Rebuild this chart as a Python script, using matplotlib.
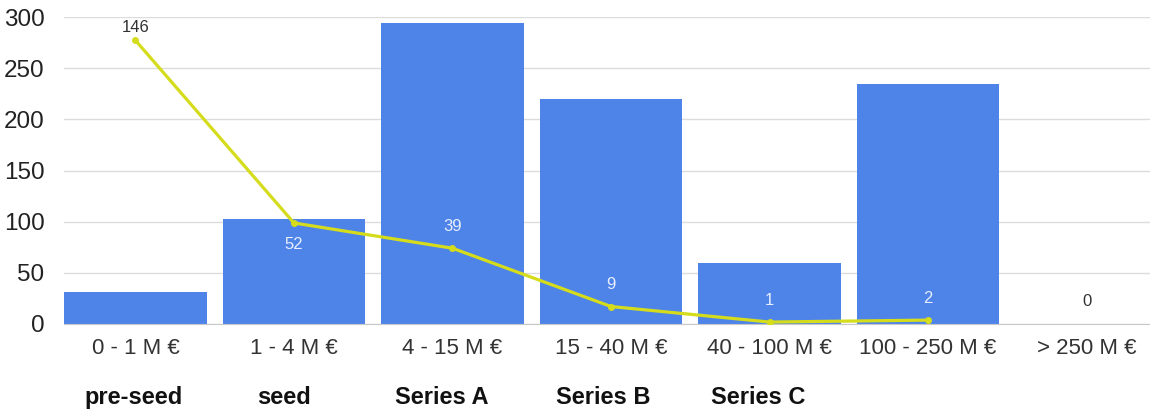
import matplotlib.pyplot as plt

plt.rcParams['font.family'] = ['Liberation Sans', 'DejaVu Sans']

# data
ranges = ["0 - 1 M €", "1 - 4 M €", "4 - 15 M €", "15 - 40 M €", "40 - 100 M €", "100 - 250 M €", "> 250 M €"]
stages = ["pre-seed", "seed", "Series A", "Series B", "Series C"]
bar_values = [31, 103, 294, 220, 60, 235, 0]
line_values = [146, 52, 39, 9, 1, 2, 0]
line_points = 6  # the line stops at 100 - 250 M €

fig = plt.figure(figsize=(11.5, 4.12), dpi=100)
ax = fig.add_axes([0.0557, 0.2136, 0.9443, 0.7451])

x = list(range(len(ranges)))
ax.bar(x, bar_values, width=0.9, color='#4e84e8', zorder=2)
ax.set_ylim(0, 300)
ax.set_xlim(-0.45, 6.40)
ax.set_yticks([0, 50, 100, 150, 200, 250, 300])
ax.grid(axis='y', color='#dcdcdc', linewidth=1, zorder=0)
ax.set_axisbelow(True)
for s in ['top', 'right', 'left']:
    ax.spines[s].set_visible(False)
ax.spines['bottom'].set_color('#c8c8c8')
ax.tick_params(axis='y', length=0, labelsize=17.5, labelcolor='#222222', pad=14)
ax.tick_params(axis='x', length=0, labelsize=16, labelcolor='#333333', pad=10)
ax.set_xticks(x)
ax.set_xticklabels(ranges)

# second scale for the line
ax2 = ax.twinx()
ax2.set_ylim(0, 158)
ax2.axis('off')
ax2.plot(x[:line_points], line_values[:line_points], color='#d4dc1c', linewidth=2.3,
         marker='o', markersize=4, zorder=3)

for i, v in enumerate(line_values):
    if i == 1:
        dy = -22
    elif i == 0:
        dy = 13
    else:
        dy = 22
    # label sits inside the bar -> light text, else dark
    label_y = ax.transData.inverted().transform(
        ax2.transData.transform((i, v)) + (0, dy))[1]
    col = '#e8eeff' if label_y < bar_values[i] else '#333333'
    ax2.annotate(str(v), (i, v), xytext=(0, dy), textcoords='offset pixels',
                 ha='center', va='center', fontsize=12, color=col, zorder=4)

# funding stage labels under the axis
stage_pos = [-0.01, -0.06, -0.07, -0.05, -0.07]
for i, name in enumerate(stages):
    ax.text(i + stage_pos[i], -72, name, ha='center', va='center', fontsize=17,
            fontweight='bold', color='#111111', clip_on=False)

fig.savefig('out.png', dpi=100)
